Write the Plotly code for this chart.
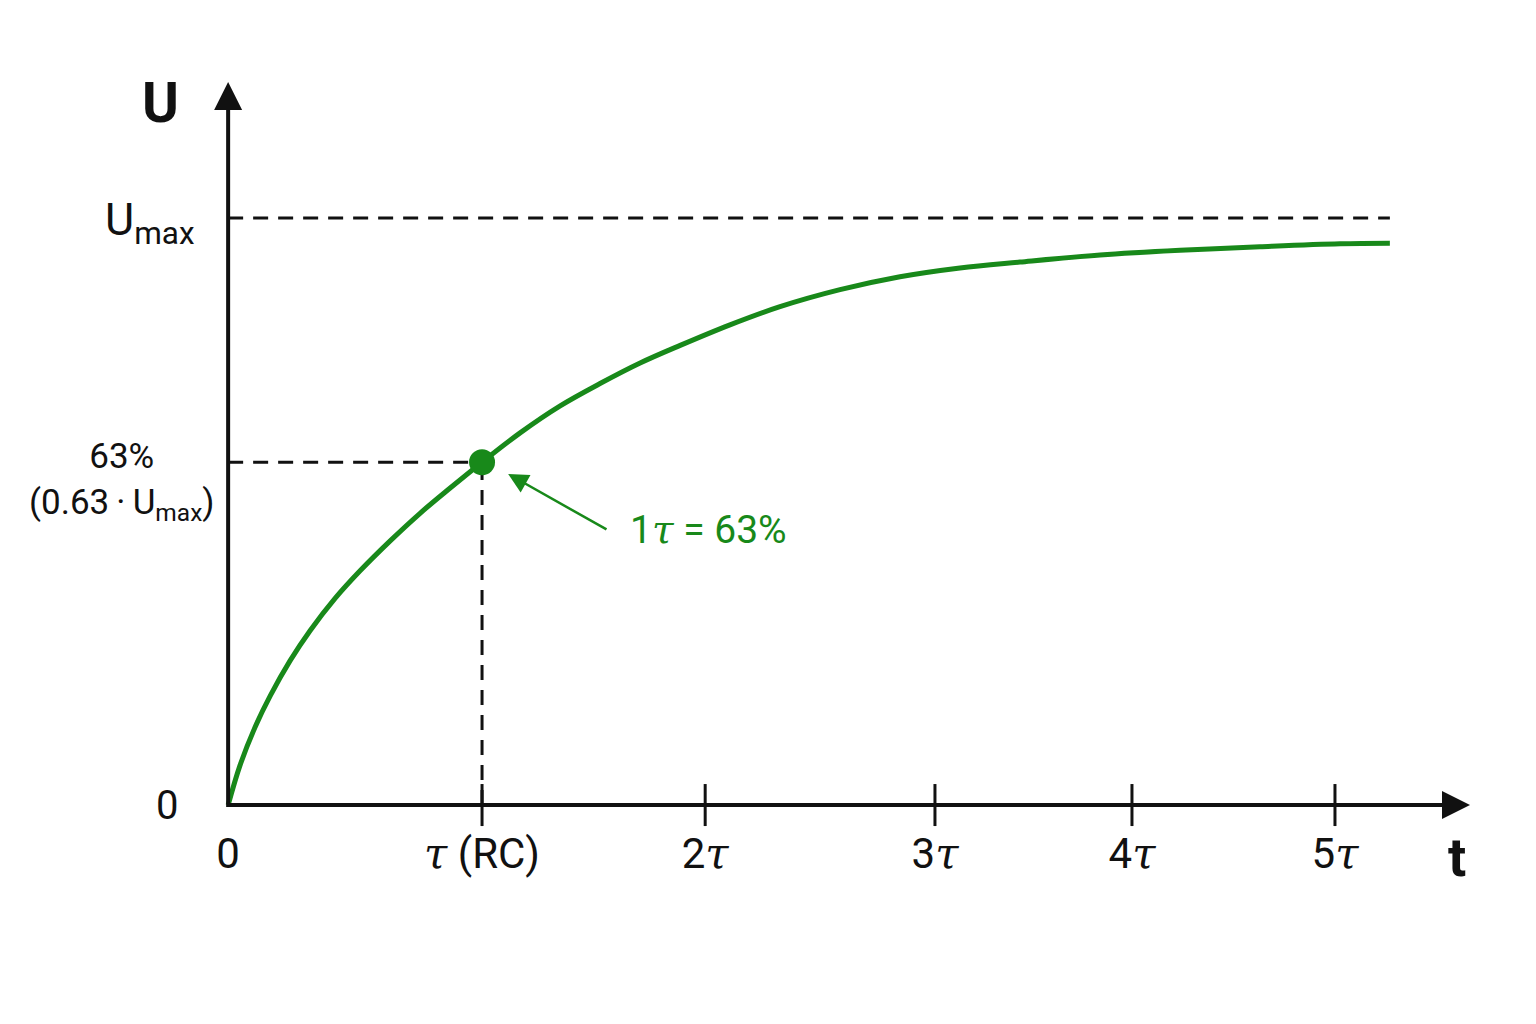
import plotly.graph_objects as go

# curve (t in chart units, U as fraction of Umax)
t_curve = [0, 0.054, 0.122, 0.190, 0.280, 0.370, 0.483, 0.596, 0.732, 0.867,
           1.003, 1.147, 1.319, 1.500, 1.680, 1.861, 2.042, 2.267, 2.493,
           2.764, 3.035, 3.306, 3.577, 3.939, 4.300, 4.661, 5.023, 5.248]
u_curve = [0, 0.068, 0.133, 0.186, 0.246, 0.297, 0.352, 0.399, 0.450, 0.497,
           0.540, 0.584, 0.634, 0.680, 0.718, 0.753, 0.783, 0.818, 0.849,
           0.878, 0.900, 0.915, 0.925, 0.937, 0.945, 0.951, 0.956, 0.957]

tick_pos = [0, 1.147, 2.155, 3.193, 4.083, 5.0]
TAU = "<span style='font-family:DejaVu Serif'><i>τ</i></span>"
tick_text = ["0", TAU + " (RC)", "2" + TAU, "3" + TAU, "4" + TAU, "5" + TAU]

u_max = 1.0
u_tau = 0.584
t_tau = 1.147
t_end = 5.248

x_range = [-0.1, 5.61]
y_range = [-0.034, 1.2317]

green = "#18891a"
black = "#111111"
font = "Roboto"


def px(v):
    # data x -> paper x (for labels that sit outside the axis range)
    return (v - x_range[0]) / (x_range[1] - x_range[0])


def py(v):
    return (v - y_range[0]) / (y_range[1] - y_range[0])


fig = go.Figure()

# dashed helper lines
dash_line = dict(color=black, width=3, dash="15px,10px")
fig.add_trace(go.Scatter(x=[0, t_end], y=[u_max, u_max], mode="lines",
                         line=dash_line, hoverinfo="skip"))
fig.add_trace(go.Scatter(x=[0, t_tau], y=[u_tau, u_tau], mode="lines",
                         line=dash_line, hoverinfo="skip"))
fig.add_trace(go.Scatter(x=[t_tau, t_tau], y=[0, u_tau], mode="lines",
                         line=dash_line, hoverinfo="skip"))

# charging curve
fig.add_trace(go.Scatter(x=t_curve, y=u_curve, mode="lines",
                         line=dict(color=green, width=5, shape="spline", smoothing=1),
                         cliponaxis=False))

# 1 tau point
fig.add_trace(go.Scatter(x=[t_tau], y=[u_tau], mode="markers",
                         marker=dict(color=green, size=26), cliponaxis=False))

# tick marks crossing the t axis
fig.add_trace(go.Scatter(x=tick_pos[1:], y=[0] * (len(tick_pos) - 1), mode="markers",
                         marker=dict(symbol="line-ns", size=30,
                                     line=dict(color=black, width=3)),
                         cliponaxis=False, hoverinfo="skip"))

# axes with arrows
fig.add_annotation(x=x_range[1], y=0, ax=-0.01, ay=0, xref="x", yref="y",
                   axref="x", ayref="y", text="", showarrow=True,
                   arrowhead=2, arrowsize=1.4, arrowwidth=4, arrowcolor=black)
fig.add_annotation(x=0, y=y_range[1], ax=0, ay=-0.006, xref="x", yref="y",
                   axref="x", ayref="y", text="", showarrow=True,
                   arrowhead=2, arrowsize=1.4, arrowwidth=4, arrowcolor=black)

# axis titles
fig.add_annotation(x=px(-0.307), y=py(1.196), xref="paper", yref="paper",
                   xanchor="center", yanchor="middle",
                   text="<b>U</b>", showarrow=False,
                   font=dict(family=font, size=56, color=black))
fig.add_annotation(x=px(5.551), y=py(-0.0886), xref="paper", yref="paper",
                   xanchor="center", yanchor="middle",
                   text="<b>t</b>", showarrow=False,
                   font=dict(family=font, size=54, color=black))

# y labels
fig.add_annotation(x=px(-0.14), y=py(u_max), xref="paper", yref="paper",
                   xanchor="right", yanchor="middle", yshift=-4,
                   text="U<sub>max</sub>", showarrow=False,
                   font=dict(family=font, size=45, color=black))
fig.add_annotation(x=px(-0.479), y=py(u_tau), xref="paper", yref="paper",
                   xanchor="center", yanchor="top", yshift=28,
                   text="63%<br>(0.63\u2009·\u2009U<sub>max</sub>)", showarrow=False,
                   align="center", font=dict(family=font, size=35, color=black))
fig.add_annotation(x=px(-0.276), y=py(0), xref="paper", yref="paper",
                   xanchor="center", yanchor="middle",
                   text="0", showarrow=False,
                   font=dict(family=font, size=40, color=black))

# callout: arrow, then its text
fig.add_annotation(x=1.265, y=0.564, ax=1.716, ay=0.468, axref="x", ayref="y",
                   text="", showarrow=True, arrowhead=2,
                   arrowsize=1.6, arrowwidth=2.5, arrowcolor=green)
fig.add_annotation(x=2.168, y=0.468, text="1" + TAU + " = 63%", showarrow=False,
                   font=dict(family=font, size=39, color=green))

fig.update_layout(
    width=1536, height=1024,
    margin=dict(l=198, r=74, t=74, b=207),
    plot_bgcolor="white", paper_bgcolor="white",
    showlegend=False,
    xaxis=dict(range=x_range, showgrid=False, zeroline=False, showline=False,
               tickmode="array", tickvals=tick_pos, ticktext=tick_text,
               ticks="", tickfont=dict(family=font, size=42, color=black)),
    yaxis=dict(range=y_range, showgrid=False, zeroline=False, showline=False,
               showticklabels=False, ticks=""),
)

fig.write_html("out.html")
